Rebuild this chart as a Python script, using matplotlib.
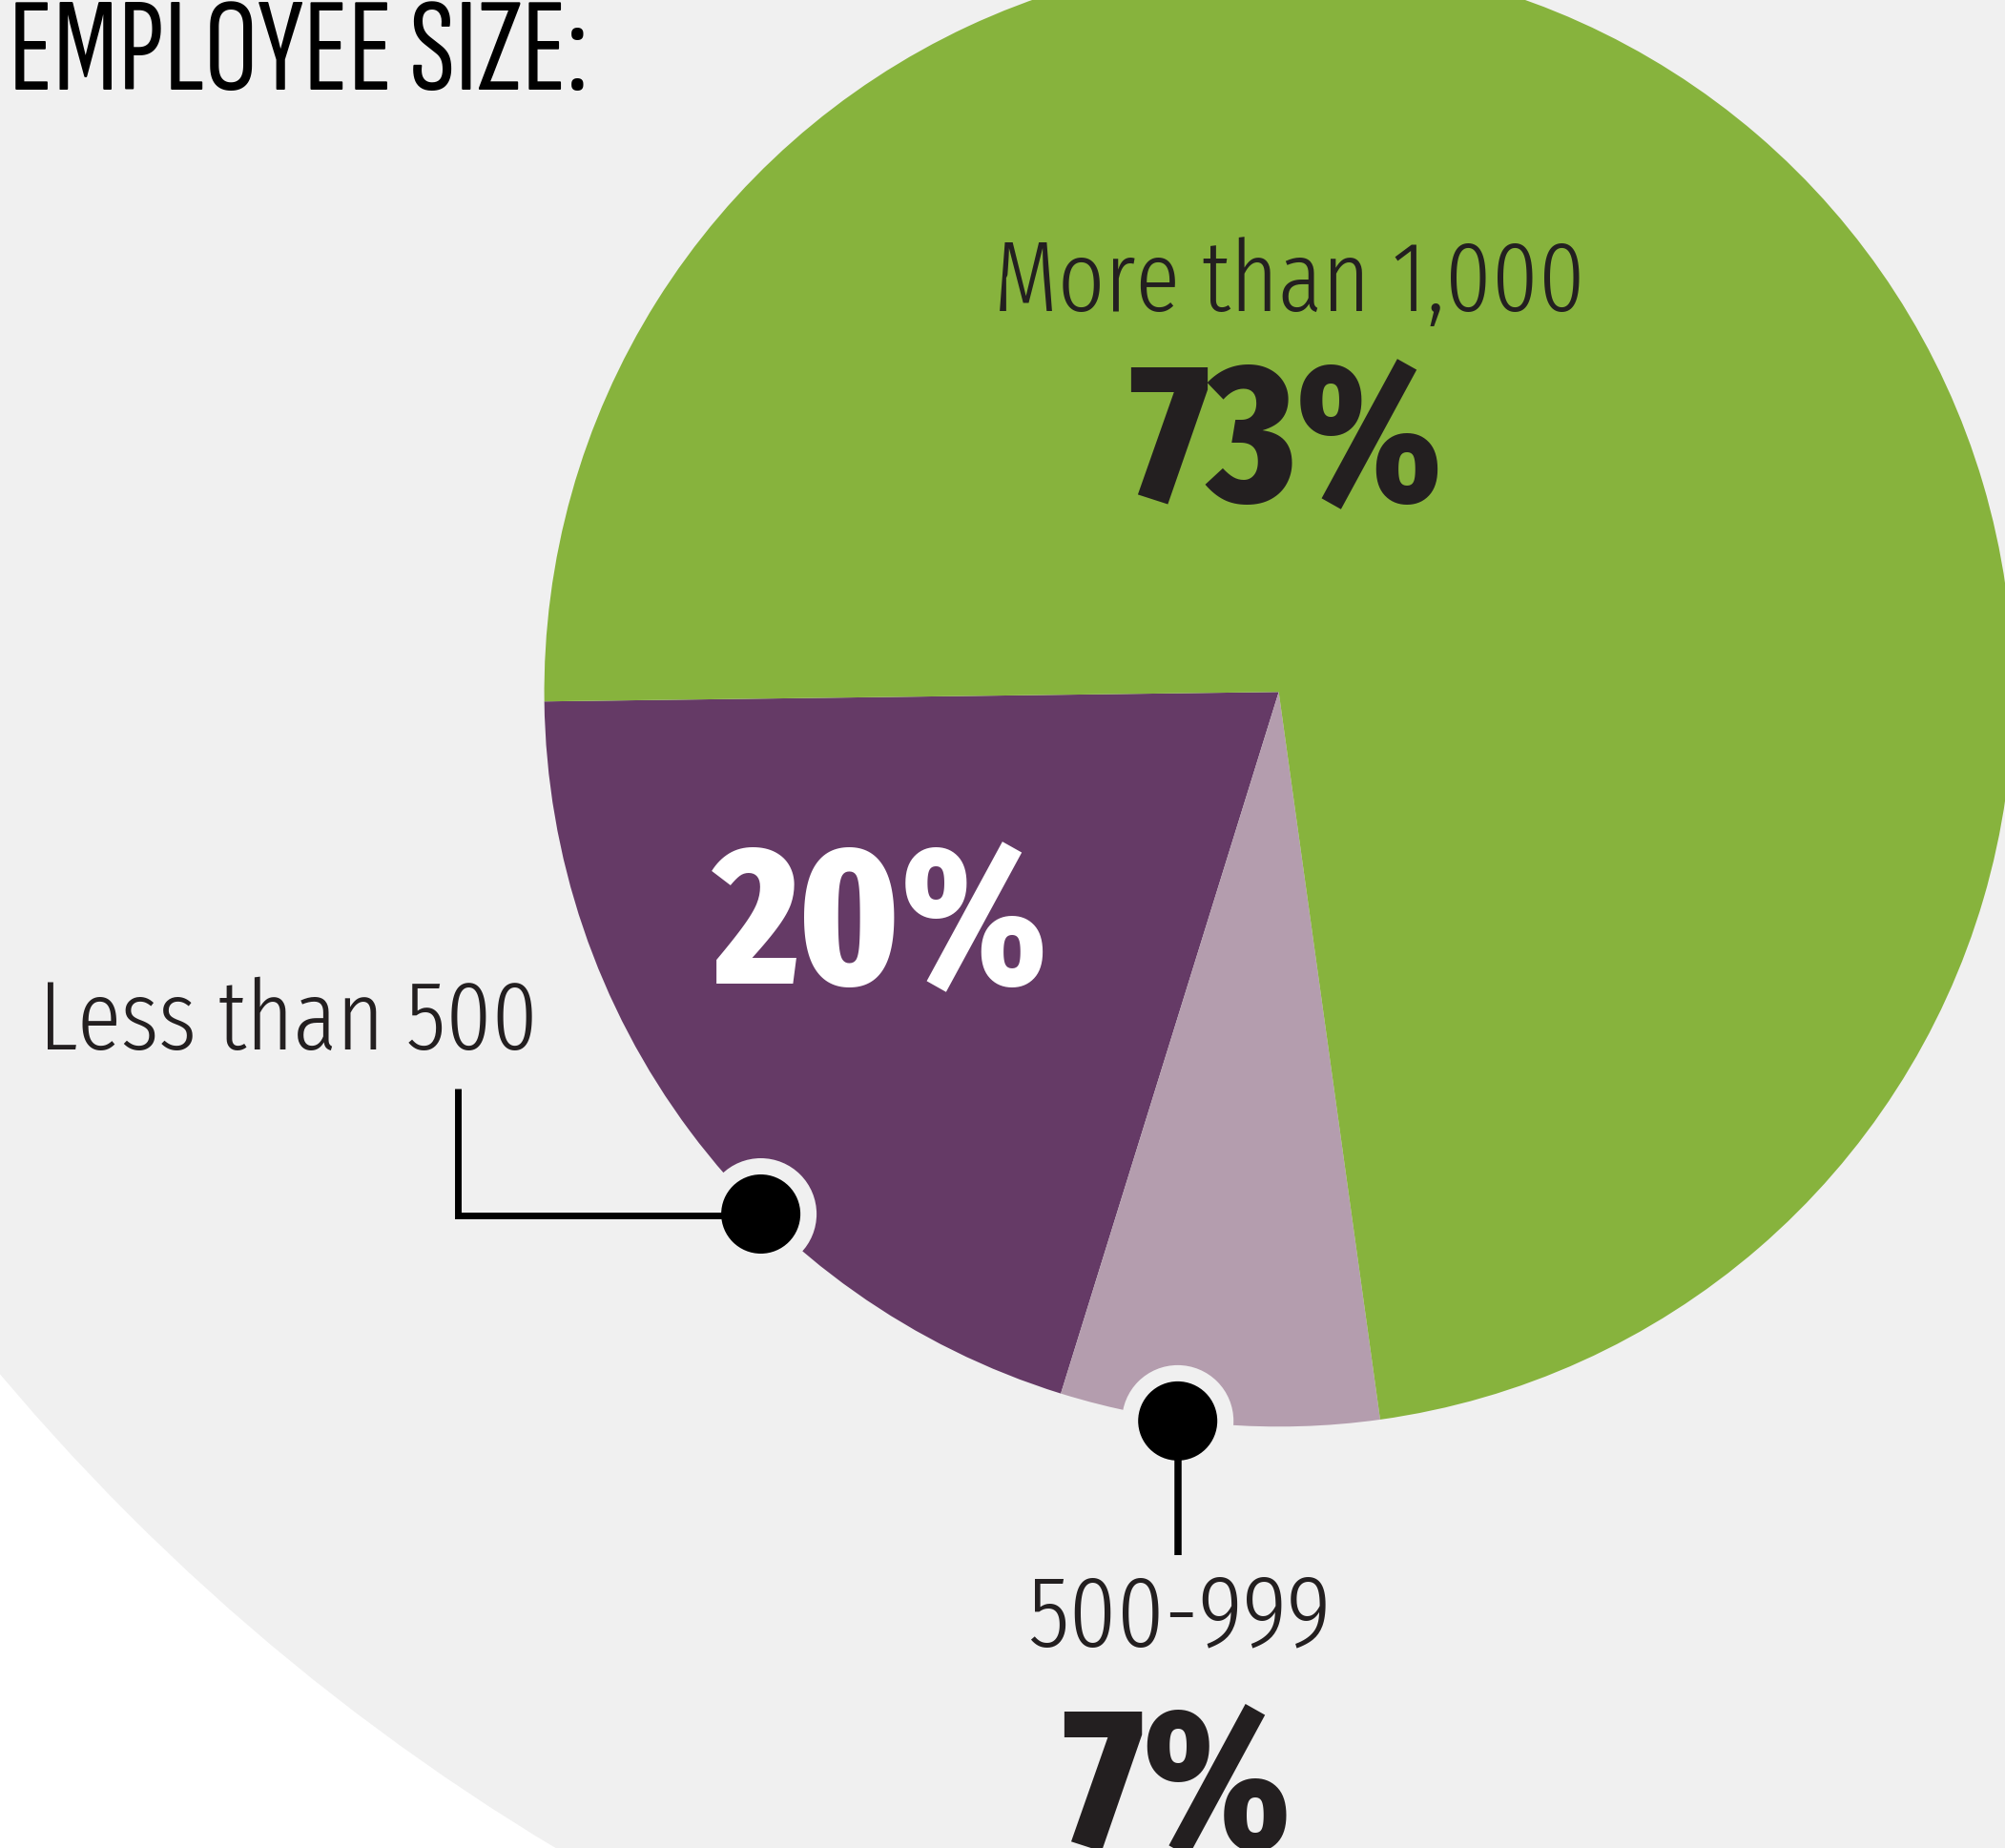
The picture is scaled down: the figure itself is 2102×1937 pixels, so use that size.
import matplotlib
matplotlib.use("Agg")
import matplotlib.pyplot as plt
from matplotlib.patches import Circle

# data
categories = ["Less than 500", "500-999", "More than 1,000"]
shares = [20, 7, 73]
share_labels = ["20%", "7%", "73%"]
colors = ["#653a66", "#b49dae", "#87b33d"]
title = "EMPLOYEE SIZE:"

W, H = 2102, 1937
BG = "#f0f0f0"
DARK = "#231f20"
LABEL_FONT = "Fira Sans Extra Condensed"


def Y(y):
    # image row -> data y
    return H - y


fig = plt.figure(figsize=(W / 100, H / 100), dpi=100, facecolor="white")
ax = fig.add_axes([0, 0, 1, 1])
ax.set_facecolor("none")

# big grey backdrop
ax.add_patch(Circle((1780, Y(-57)), 2326, facecolor=BG, edgecolor="none", zorder=0))

cx, cy, r = 1340.6, Y(725.3), 770
ax.pie(shares, colors=colors, startangle=180.74, counterclock=True,
       center=(cx, cy), radius=r, frame=True,
       wedgeprops=dict(linewidth=0, zorder=1))

ax.set_xlim(0, W)
ax.set_ylim(0, H)
ax.set_aspect("equal")
ax.axis("off")

# title, cut at the top edge
ax.text(9, Y(94), title, ha="left", va="baseline", fontsize=101,
        family="Sofia Sans Extra Condensed", weight=500, color="black", zorder=5)

# category labels
ax.text(1352, Y(326), categories[2], ha="center", va="baseline", fontsize=75,
        family=LABEL_FONT, weight=300, color=DARK, zorder=5)
ax.text(1348, Y(525), share_labels[2], ha="center", va="baseline", fontsize=149,
        family=LABEL_FONT, weight=800, color=DARK, zorder=5)

ax.text(924, Y(1031), share_labels[0], ha="center", va="baseline", fontsize=149,
        family=LABEL_FONT, weight=800, color="white", zorder=5)
ax.text(302, Y(1100), categories[0], ha="center", va="baseline", fontsize=74,
        family=LABEL_FONT, weight=300, color=DARK, zorder=5)

ax.text(1236, Y(1725), categories[1], ha="center", va="baseline", fontsize=77,
        family=LABEL_FONT, weight=300, color=DARK, zorder=5)
ax.text(1234, Y(1936), share_labels[1], ha="center", va="baseline", fontsize=151,
        family=LABEL_FONT, weight=800, color=DARK, zorder=5)

# leader lines and pins
lw = 5
m1 = (797.6, Y(1272.5))
m2 = (1234.7, Y(1489.4))
ax.plot([480, 480, m1[0]], [Y(1141), Y(1274), Y(1274)], color="black", lw=lw,
        solid_joinstyle="miter", solid_capstyle="butt", zorder=3)
ax.plot([m2[0], m2[0]], [m2[1], Y(1630)], color="black", lw=lw + 0.4,
        solid_capstyle="butt", zorder=3)
for m in (m1, m2):
    ax.add_patch(Circle(m, 58.5, facecolor=BG, edgecolor="none", zorder=2))
    ax.add_patch(Circle(m, 41.5, facecolor="black", edgecolor="none", zorder=4))

fig.savefig("out.png", dpi=100, facecolor="white")
